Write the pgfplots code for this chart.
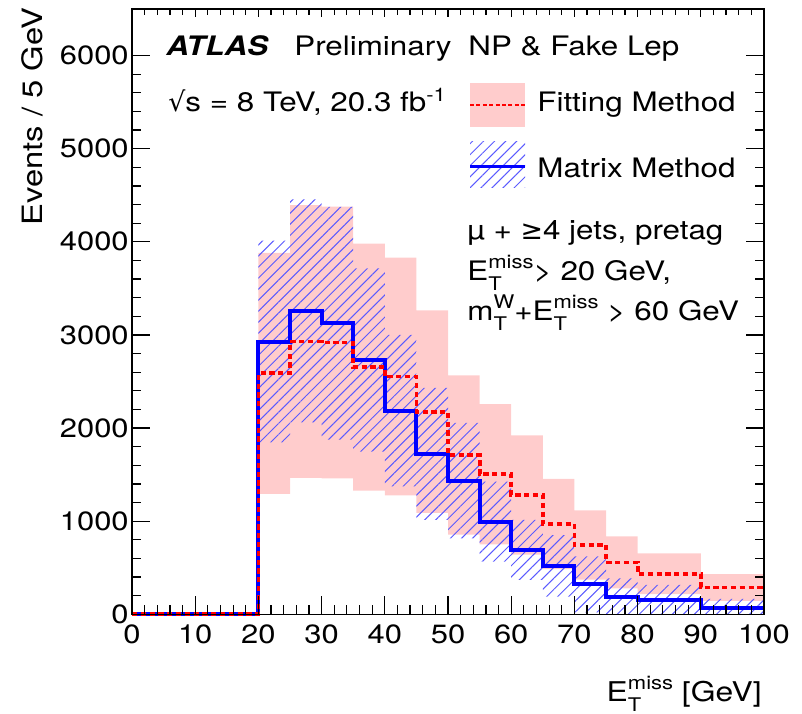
\documentclass[border=0pt]{standalone}
\usepackage{fontspec}
\setmainfont{TeX Gyre Heros}[FakeStretch=1.17]
\newfontfamily\symf{DejaVu Sans}
\usepackage{pgfplots}
\usepackage{pgfplotstable}
\pgfplotsset{compat=1.18}
\usetikzlibrary{patterns.meta}
\definecolor{bandpink}{RGB}{255,204,204}
\definecolor{hatchblue}{RGB}{90,90,255}
\newcommand{\tf}{\fontsize{13.4}{16}\selectfont}
\newcommand{\supsub}[2]{{\setbox0=\hbox{\fontsize{9.4}{10}\selectfont #1}\setbox2=\hbox{\fontsize{9.4}{10}\selectfont #2}\ifdim\wd0>\wd2 \dimen0=\wd0 \else \dimen0=\wd2 \fi\hbox to \dimen0{\rlap{\raise 0.45em\copy0}\lower 0.35em\copy2\hfil}}}

% Fitting method (bin low edge, events)
\pgfplotstableread{
x y
0 0
20 2588
25 2929
30 2918
35 2653
40 2553
45 2175
50 1711
55 1504
60 1281
65 970
70 744
75 557
80 435
90 288
100 288
}\fittab

% Matrix method (bin low edge, events)
\pgfplotstableread{
x y
0 0
20 2929
25 3258
30 3125
35 2732
40 2187
45 1722
50 1436
55 995
60 691
65 520
70 322
75 185
80 152
90 72
100 72
}\mmtab

% Fitting method uncertainty band outline
\pgfplotstableread{
x y
20 3882
25 3882
25 4394
30 4394
30 4377
35 4377
35 3980
40 3980
40 3830
45 3830
45 3263
50 3263
50 2567
55 2567
55 2256
60 2256
60 1922
65 1922
65 1455
70 1455
70 1116
75 1116
75 836
80 836
80 653
90 653
90 432
100 432
100 144
90 144
90 218
80 218
80 279
75 279
75 372
70 372
70 485
65 485
65 641
60 641
60 752
55 752
55 856
50 856
50 1088
45 1088
45 1277
40 1277
40 1327
35 1327
35 1459
30 1459
30 1465
25 1465
25 1294
20 1294
}\fitband

% Matrix method uncertainty band outline
\pgfplotstableread{
x y
20 4013
25 4013
25 4456
30 4456
30 4375
35 4375
35 3716
40 3716
40 3000
45 3000
45 2431
50 2431
50 2056
55 2056
55 1425
60 1425
60 1013
65 1013
65 851
70 851
70 622
75 622
75 385
80 385
80 315
90 315
90 165
100 165
100 0
75 0
75 22
70 22
70 189
65 189
65 369
60 369
60 565
55 565
55 816
50 816
50 1013
45 1013
45 1374
40 1374
40 1748
35 1748
35 1875
30 1875
30 2060
25 2060
25 1845
20 1845
}\mmband

\begin{document}
\begin{tikzpicture}
\useasboundingbox (-66pt,-49.35pt) rectangle (335pt,307.15pt);
\begin{axis}[
  at={(0,0)}, anchor=south west,
  scale only axis, width=316pt, height=302.65pt,
  xmin=0, xmax=100, ymin=0, ymax=6500,
  xtick={0,10,...,100}, ytick={0,1000,...,6000},
  minor x tick num=4, minor y tick num=4,
  tick align=inside, xtick pos=bottom, ytick pos=both,
  major tick length=9pt, minor tick length=4.7pt,
  axis on top, clip=false,
  scaled y ticks=false,
  /pgf/number format/1000 sep={},
  /pgf/number format/assume math mode=true,
  ticklabel style={font=\fontsize{13.2}{15}\selectfont},
  yticklabel style={inner sep=1.5pt},
  xticklabel style={yshift=-1.5pt},
  axis line style={line width=0.6pt},
  every tick/.style={black, line width=0.6pt},
]
\addplot[fill=bandpink, draw=none, forget plot] table[x=x,y=y]{\fitband} -- cycle;
\addplot[draw=none, pattern={Lines[angle=45,distance=3.9pt,line width=0.5pt]}, pattern color=hatchblue, forget plot] table[x=x,y=y]{\mmband} -- cycle;
\addplot[const plot, blue, line width=2pt] table[x=x,y=y]{\mmtab};
\addplot[const plot, red, line width=1.9pt, dash pattern=on 2.6pt off 1.8pt] table[x=x,y=y]{\fittab};
\end{axis}
\begin{axis}[
  at={(0,0)}, anchor=south west,
  scale only axis, width=316pt, height=302.65pt,
  xmin=0, xmax=100, ymin=0, ymax=6500,
  xtick={0,10,...,100}, ytick=\empty,
  minor x tick num=4,
  tick align=inside, xtick pos=top,
  xticklabels={},
  major tick length=4.2pt, minor tick length=3pt,
  axis line style={line width=0.6pt},
  every tick/.style={black, line width=0.6pt},
]
\addplot[draw=none, forget plot] table[x=x,y=y]{\fittab};
\end{axis}
% labels and texts
\node[anchor=base west, inner sep=0] at (17pt,279.6pt) {\tf\textbf{\textit{ATLAS}}};
\node[anchor=base west, inner sep=0] at (81pt,279.6pt) {\tf Preliminary};
\node[anchor=base west, inner sep=0] at (168pt,279.6pt) {\tf NP \& Fake Lep};
\node[anchor=base west, inner sep=0] at (18pt,251.2pt) {\tf{\symf √}s = 8 TeV, 20.3 fb\textsuperscript{-1}};
% legend
\fill[bandpink] (169pt,243.65pt) rectangle (196.5pt,265.65pt);
\draw[red, line width=1.2pt, dash pattern=on 2pt off 1.2pt] (169pt,254.65pt) -- (196.5pt,254.65pt);
\fill[pattern={Lines[angle=45,distance=3.9pt,line width=0.5pt]}, pattern color=hatchblue] (169pt,213.2pt) rectangle (196.5pt,236.2pt);
\draw[blue, line width=1.6pt] (169pt,223.7pt) -- (196.5pt,223.7pt);
\node[anchor=base west, inner sep=0] at (202.5pt,251.2pt) {\tf Fitting Method};
\node[anchor=base west, inner sep=0] at (202.5pt,218.2pt) {\tf Matrix Method};
% selection
\node[anchor=base west, inner sep=0] at (167.5pt,187.2pt) {\tf µ + {\symf ≥}4 jets, pretag};
\node[anchor=base west, inner sep=0] at (167.5pt,166.7pt) {\tf E\supsub{miss}{T}> 20 GeV,};
\node[anchor=base west, inner sep=0] at (167.5pt,146.7pt) {\tf m\supsub{W}{T}+E\supsub{miss}{T} > 60 GeV};
% axis titles
\node[anchor=base east, inner sep=0] at (315pt,-43.8pt) {\fontsize{13.6}{16}\selectfont E\supsub{miss}{T} [GeV]};
\node[rotate=90, anchor=base east, inner sep=0] at (-44.5pt,303.6pt) {\fontsize{14}{16}\selectfont Events / 5 GeV};
\end{tikzpicture}
\end{document}
